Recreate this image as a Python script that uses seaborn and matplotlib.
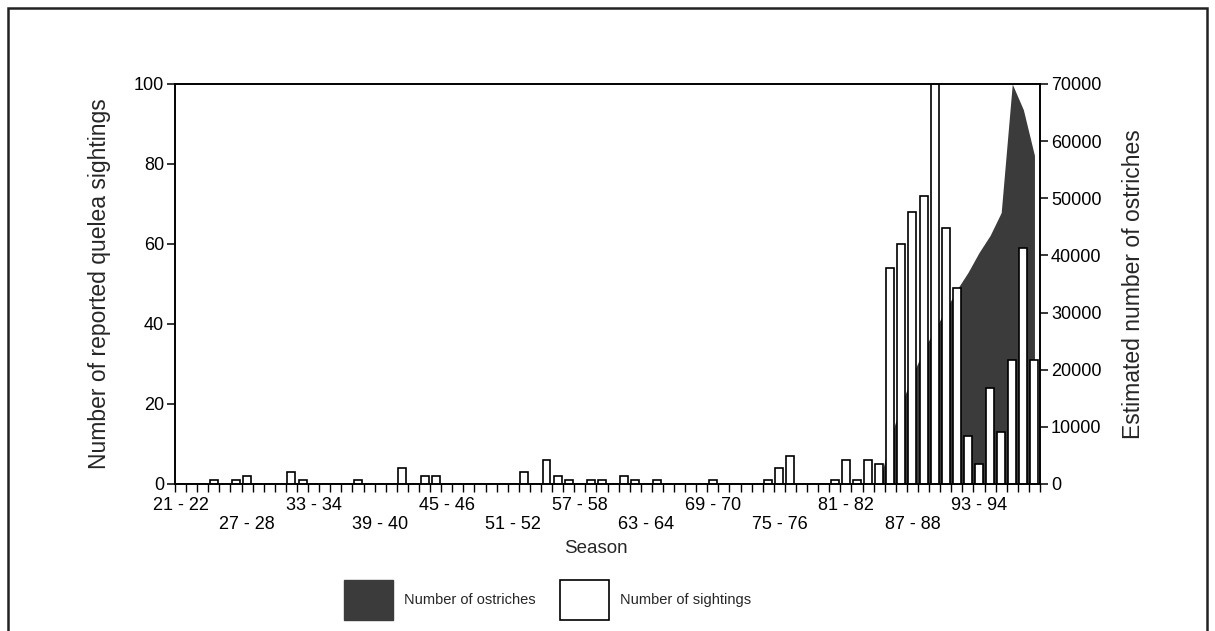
import numpy as np
import pandas as pd
import matplotlib
matplotlib.use("Agg")
import matplotlib.pyplot as plt
from matplotlib.patches import Patch, Rectangle
import seaborn as sns

# Seasons 1921-22 through 1998-99
seasons = [f"{y} - {y + 1}" for y in range(21, 99)]

# Reported quelea sightings per season (left axis)
sightings = [
    0, 0, 0, 1, 0, 1, 2, 0, 0, 0,
    3, 1, 0, 0, 0, 0, 1, 0, 0, 0,
    4, 0, 2, 2, 0, 0, 0, 0, 0, 0,
    0, 3, 0, 6, 2, 1, 0, 1, 1, 0,
    2, 1, 0, 1, 0, 0, 0, 0, 1, 0,
    0, 0, 0, 1, 4, 7, 0, 0, 0, 1,
    6, 1, 6, 5, 54, 60, 68, 72, 100, 64,
    49, 12, 5, 24, 13, 31, 59, 31,
]

# Estimated number of ostriches per season (right axis)
ostriches = [0] * 63 + [
    0, 8000, 14000, 19000, 23500, 27000, 30500,
    34000, 37000, 40500, 43500, 47500, 70000, 65500, 57500,
]

sighting_ticks = [0, 20, 40, 60, 80, 100]
ostrich_ticks = [0, 10000, 20000, 30000, 40000, 50000, 60000, 70000]
label_step = 6

sns.set_theme(style="ticks")
plt.rcParams["font.family"] = ["Liberation Sans", "DejaVu Sans"]
plt.rcParams["axes.edgecolor"] = "black"
plt.rcParams["xtick.color"] = "black"
plt.rcParams["ytick.color"] = "black"

fig = plt.figure(figsize=(12.15, 6.31), dpi=100)
ax = fig.add_axes([175 / 1215, 1 - 484 / 631, 865 / 1215, 400 / 631])
ax2 = ax.twinx()

pos = np.arange(len(seasons))

# Ostrich numbers as a filled area behind the bars
ax2.fill_between(pos, ostriches, color="#3b3b3b", linewidth=0)
ax2.set_ylim(0, 70000)
ax2.set_yticks(ostrich_ticks)
ax2.yaxis.set_major_formatter(plt.FuncFormatter(lambda v, _: f"{int(v)}"))
ax2.tick_params(axis="y", length=6, width=1.1, labelsize=13, pad=2)
ax2.set_ylabel("Estimated number of ostriches", fontsize=16.5)
ax2.yaxis.set_label_coords(1.095, 0.5)

# Sightings as open bars in front
df = pd.DataFrame({"season": seasons, "sightings": sightings})
sns.barplot(data=df, x="season", y="sightings", color="white", saturation=1,
            edgecolor="black", linewidth=1.2, width=0.72, errorbar=None, ax=ax)
ax.set_zorder(ax2.get_zorder() + 1)
ax.patch.set_visible(False)

ax.set_xlim(-0.5, len(seasons) - 0.5)
ax.set_ylim(0, 100)
ax.set_yticks(sighting_ticks)
ax.tick_params(axis="y", length=6, width=1.1, labelsize=13, pad=2)

major = pos[::label_step]
labels = [seasons[i] if k % 2 == 0 else "\n" + seasons[i] for k, i in enumerate(major)]
ax.set_xticks(major)
ax.set_xticklabels(labels)
ax.set_xticks(np.arange(-0.5, len(seasons), 1.0), minor=True)
ax.tick_params(axis="x", which="major", length=0, pad=9, labelsize=13)
ax.tick_params(axis="x", which="minor", length=6, width=1.0, direction="out")

ax.set_ylabel("Number of reported quelea sightings", fontsize=16.5)
ax.yaxis.set_label_coords(-0.074, 0.5)
ax.set_xlabel("Season", fontsize=13.5)
ax.xaxis.set_label_coords(0.487, -0.14)

for a in (ax, ax2):
    for s in a.spines.values():
        s.set_visible(True)
        s.set_linewidth(1.2)
        s.set_color("black")

handles = [
    Patch(facecolor="#3b3b3b", edgecolor="#3b3b3b", label="Number of ostriches"),
    Patch(facecolor="white", edgecolor="black", linewidth=1.2, label="Number of sightings"),
]
fig.legend(handles=handles, loc="center", bbox_to_anchor=(0.4506, 0.049), ncol=2,
           frameon=False, fontsize=10.5, handlelength=3.4, handleheight=3.85,
           handletextpad=0.75, columnspacing=1.65)

# Frame around the whole figure
fig.patches.append(Rectangle((8 / 1215, -0.05), 1199 / 1215, 1.05 - 8 / 631,
                             transform=fig.transFigure, fill=False,
                             edgecolor="#222222", linewidth=1.8))

fig.savefig("out.png", dpi=100, facecolor="white")
